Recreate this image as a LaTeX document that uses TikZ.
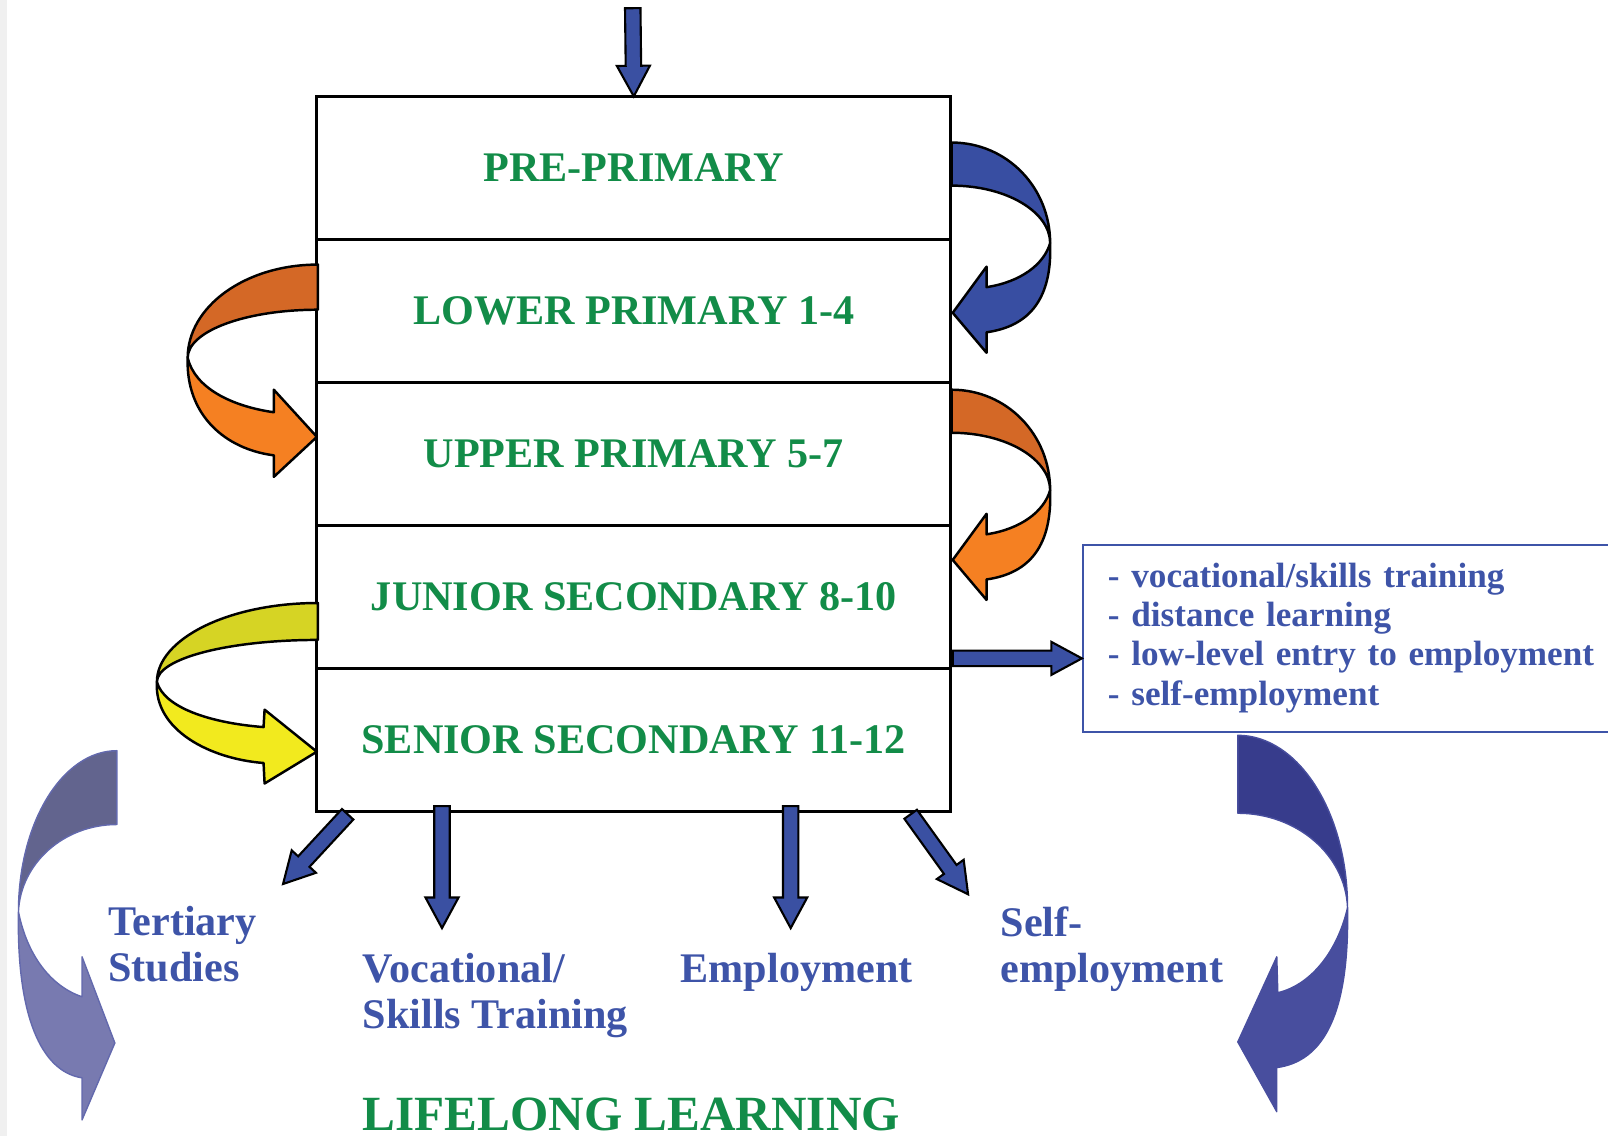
\documentclass[tikz,border=0pt]{standalone}
\usepackage{fontspec}
\setmainfont{Liberation Serif}
\usetikzlibrary{positioning, calc}

\definecolor{levelgreen}{RGB}{18,140,72}
\definecolor{outblue}{RGB}{62,84,168}
\definecolor{arrowblue}{RGB}{58,80,162}
\definecolor{loopblue}{RGB}{56,78,162}
\definecolor{orangeback}{RGB}{212,104,38}
\definecolor{orangefront}{RGB}{245,128,34}
\definecolor{yellowback}{RGB}{214,212,36}
\definecolor{yellowfront}{RGB}{242,234,30}
\definecolor{lilacback}{RGB}{98,100,142}
\definecolor{lilacfront}{RGB}{120,122,176}
\definecolor{navyback}{RGB}{55,60,140}
\definecolor{navyfront}{RGB}{72,78,158}

\tikzset{
  levelbox/.style={rectangle, draw, line width=0.9pt, outer sep=0pt,
                   minimum width=63.4mm, minimum height=14.3mm,
                   font=\fontsize{12}{14}\selectfont\bfseries, text=levelgreen},
  outcome/.style={anchor=base west, align=left, inner sep=0pt,
                  font=\fontsize{12}{13.1}\selectfont\bfseries, text=outblue},
  routebox/.style={rectangle, draw=outblue, line width=0.6pt, anchor=north west,
                   text width=55mm, align=left, inner xsep=2.5mm,
                   minimum height=18.7mm,
                   font=\fontsize{10}{11.1}\selectfont\bfseries, text=outblue},
  % --- block arrow drawn as a closed outline from start to target ---
  fatarrow/.style={draw=black, line width=0.6pt, fill=arrowblue, line join=miter,
                   to path={let \p1=(\tikztostart), \p2=(\tikztotarget),
                            \n1={atan2(\y2-\y1,\x2-\x1)} in
                            ($(\p1)+(\n1+90:2.2pt)$)
                            -- ($(\p2)+(\n1+180:8.7pt)+(\n1+90:2.2pt)$)
                            -- ($(\p2)+(\n1+180:8.7pt)+(\n1+90:4.7pt)$)
                            -- (\p2)
                            -- ($(\p2)+(\n1+180:8.7pt)+(\n1-90:4.7pt)$)
                            -- ($(\p2)+(\n1+180:8.7pt)+(\n1-90:2.2pt)$)
                            -- ($(\p1)+(\n1-90:2.2pt)$) -- cycle}},
  ribbon/.style={draw=black, line width=0.7pt, line join=round},
  bigribbon/.style={draw=navyfront!85, line width=0.4pt, line join=round},
}

% right-hand turning arrow: vertical shift, back colour, front colour
\newcommand{\rightloop}[3]{%
  \begin{scope}[shift={(0,#1)}]
    \filldraw[ribbon, fill=#2] (928,139) .. controls (982,139) and (1024,183) .. (1024,237)
      .. controls (1024,207) and (982,181) .. (928,181) -- cycle;
    \filldraw[ribbon, fill=#3] (1024,237) .. controls (1026,290) and (1005,318) .. (962,324)
      -- (962,344) -- (929,305) -- (962,260) -- (962,280)
      .. controls (995,275) and (1018,258) .. (1024,237) -- cycle;
  \end{scope}}

\begin{document}
\begin{tikzpicture}[x=0.10255mm, y=-0.10255mm]
  \useasboundingbox (0,0) rectangle (1568,1108);
  \clip (0,0) rectangle (1568,1108);
  \fill[gray!12] (0,0) rectangle (7,1108);

  % --- School levels ---
  \node[levelbox] (pre) at (618,163.7) {PRE-PRIMARY};
  \node[levelbox, below=0pt of pre] (lower) {LOWER PRIMARY 1-4};
  \node[levelbox, below=0pt of lower] (upper) {UPPER PRIMARY 5-7};
  \node[levelbox, below=0pt of upper] (junior) {JUNIOR SECONDARY 8-10};
  \node[levelbox, below=0pt of junior] (senior) {SENIOR SECONDARY 11-12};

  % --- Turning arrows between levels ---
  \rightloop{0}{loopblue}{loopblue}
  \rightloop{241}{orangeback}{orangefront}

  \filldraw[ribbon, fill=orangeback] (310,258) .. controls (239,258) and (183,299) .. (183,349)
    .. controls (183,323) and (239,302) .. (310,302) -- cycle;
  \filldraw[ribbon, fill=orangefront] (183,349) .. controls (181,405) and (220,438) .. (267,444)
    -- (267,465) -- (309,426) -- (267,380) -- (267,402)
    .. controls (225,396) and (190,378) .. (183,349) -- cycle;

  \filldraw[ribbon, fill=yellowback] (310,588) .. controls (223,588) and (153,623) .. (153,665)
    .. controls (153,642) and (223,624) .. (310,624) -- cycle;
  \filldraw[ribbon, fill=yellowfront] (153,665) .. controls (150,712) and (205,740) .. (257,744)
    -- (258,764) -- (309,733) -- (258,692) -- (257,709)
    .. controls (205,705) and (160,690) .. (153,665) -- cycle;

  % --- Outer arrows ---
  \filldraw[bigribbon, fill=lilacback] (114,732) .. controls (61,732) and (18,802) .. (18,889)
    .. controls (20,842) and (62,804) .. (114,804) -- cycle;
  \filldraw[bigribbon, fill=lilacfront] (18,889) .. controls (16,990) and (40,1045) .. (80,1051)
    -- (80,1092) -- (112,1017) -- (80,933) -- (80,972)
    .. controls (45,960) and (25,925) .. (18,889) -- cycle;

  \filldraw[bigribbon, draw=navyfront, fill=navyback] (1207,717) .. controls (1266,717) and (1314,792) .. (1314,885)
    .. controls (1312,834) and (1265,793) .. (1207,793) -- cycle;
  \filldraw[bigribbon, draw=navyfront, fill=navyfront] (1314,885) .. controls (1316,990) and (1290,1035) .. (1245,1041)
    -- (1245,1084) -- (1207,1016) -- (1245,933) -- (1246,968)
    .. controls (1280,960) and (1305,925) .. (1314,885) -- cycle;

  % --- Routes box ---
  \node[routebox] (routes) at (1055,530)
    {- vocational/skills training\\- distance learning\\- low-level entry to employment\\- self-employment};

  % --- Outcomes (base = last line) ---
  \node[outcome] (tert) at (105,957) {Tertiary\\Studies};
  \node[outcome] (voc) at (353,1003) {Vocational/\\Skills Training};
  \node[outcome] (emp) at (663,958) {Employment};
  \node[outcome] (self) at (975,958) {Self-\\employment};
  \node[anchor=base west, inner sep=0pt, text=levelgreen,
        font=\fontsize{14}{16}\selectfont\bfseries] (lifelong) at (353,1102) {LIFELONG LEARNING};

  % --- Block arrows ---
  \coordinate (entry) at (617,8);
  \coordinate (tertfrom) at (339,794);
  \coordinate (tertto) at (276,862);
  \coordinate (vocfrom) at (431,786);
  \coordinate (vocto) at (431,905);
  \coordinate (empfrom) at (771,786);
  \coordinate (empto) at (771,905);
  \coordinate (selffrom) at (888,794);
  \coordinate (selfto) at (944,872);
  \coordinate (exitfrom) at (929,642);
  \coordinate (exitto) at (routes.west |- exitfrom);

  \draw[fatarrow] (entry) to (pre.north);
  \draw[fatarrow] (tertfrom) to (tertto);
  \draw[fatarrow] (vocfrom) to (vocto);
  \draw[fatarrow] (empfrom) to (empto);
  \draw[fatarrow] (selffrom) to (selfto);
  \draw[fatarrow] (exitfrom) to (exitto);
\end{tikzpicture}
\end{document}
